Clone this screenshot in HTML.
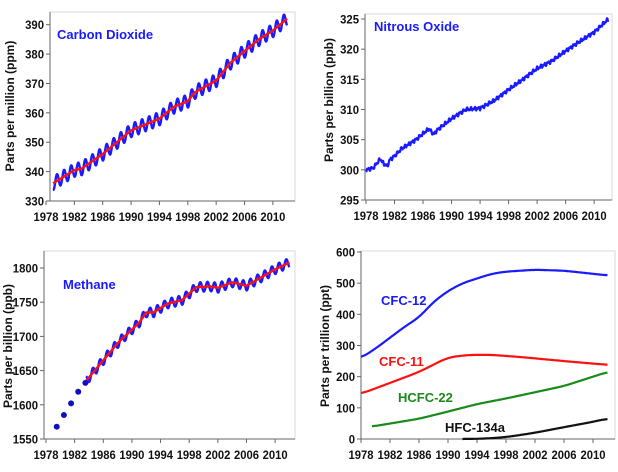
<!DOCTYPE html>
<html><head><meta charset="utf-8"><style>
html,body{margin:0;padding:0;background:#fff;}
svg{display:block;font-family:"Liberation Sans",Arial,sans-serif;font-weight:bold;}
</style></head><body>
<svg id="s" width="618" height="472" viewBox="0 0 618 472" xmlns="http://www.w3.org/2000/svg"></svg>
<script>
const S=document.getElementById('s');let out='';
function interp(pts,x){if(x<=pts[0][0])return pts[0][1];for(let i=1;i<pts.length;i++){if(x<=pts[i][0]){const a=pts[i-1],b=pts[i];return a[1]+(b[1]-a[1])*(x-a[0])/(b[0]-a[0]);}}return pts[pts.length-1][1];}
function val(s,t){if(!s.sm)return interp(s.pts,t);let sum=0,n=0;for(let k=-s.sm;k<=s.sm+1e-9;k+=0.1){sum+=interp(s.pts,Math.min(s.b,Math.max(s.a,t+k)));n++;}return sum/n;}
function panel(c){
 const X=y=>c.x0+(y-1978)*c.xs, Y=v=>c.yb+(v-c.vmin)*(c.yt-c.yb)/(c.vmax-c.vmin);
 out+=`<rect x="${c.L}" y="${c.T}" width="${c.R-c.L}" height="${c.B-c.T}" fill="none" stroke="#d8d8d8" stroke-width="1"/>`;
 out+=`<line x1="${c.L}" y1="${c.T}" x2="${c.L}" y2="${c.B}" stroke="#666"/><line x1="${c.L}" y1="${c.B}" x2="${c.R}" y2="${c.B}" stroke="#666"/>`;
 for(let v=c.vmin;v<=c.vmax+1e-9;v+=c.step){const y=Y(v);const s=String(v);out+=`<line x1="${c.L-4}" y1="${y}" x2="${c.L}" y2="${y}" stroke="#666"/><text x="${c.L-6}" y="${y+4.5}" font-size="12" text-anchor="end" textLength="${s.length*6.3}" lengthAdjust="spacingAndGlyphs" fill="#111">${s}</text>`;}
 for(let yr=1978;yr<=2010;yr+=4){const x=X(yr);out+=`<line x1="${x}" y1="${c.B}" x2="${x}" y2="${c.B+4}" stroke="#666"/><text x="${x-12.5}" y="${c.B+20}" font-size="12" textLength="25" lengthAdjust="spacingAndGlyphs" fill="#111">${yr}</text>`;}
 out+=`<text transform="translate(${c.ax},${c.ay}) rotate(-90)" font-size="12" text-anchor="middle" fill="#111">${c.atitle}</text>`;
 c.series.forEach(s=>{let d='';for(let t=s.a;t<=s.b+1e-9;t+=s.dt){let v=val(s,t)+(s.amp?s.amp*Math.sin(2*Math.PI*(t-0.3)):0)+(s.wig?s.wig*Math.sin(t*17.3)*Math.cos(t*5.1):0);d+=(d?'L':'M')+X(t).toFixed(1)+','+Y(v).toFixed(1);}
  out+=`<path d="${d}" fill="none" stroke="${s.col}" stroke-width="${s.w}" stroke-linejoin="round"/>`;});
 (c.dots||[]).forEach(p=>out+=`<circle cx="${X(p[0])}" cy="${Y(p[1])}" r="3" fill="#1010c0"/>`);
 c.labels.forEach(l=>out+=`<text x="${l[0]}" y="${l[1]}" font-size="13" fill="${l[3]}">${l[2]}</text>`);
}
const co2=[[1979,336],[1982,340.5],[1983,341],[1986,346],[1988,350],[1990,354],[1992,356],[1994,358],[1996,362],[1998,364],[1999,367],[2002,371],[2004,377],[2006,381],[2008,385],[2010,388],[2012,392]];
panel({L:50,R:295,T:12,B:201,x0:46,xs:7.09,vmin:330,vmax:390,step:10,yb:201,yt:24.7,ax:14,ay:106,atitle:'Parts per million (ppm)',
 series:[{pts:co2,a:1979,b:2012,dt:0.05,amp:2.3,col:'#1a1aff',w:2.4},{pts:co2,a:1979,b:2012,dt:0.1,col:'#ff1010',w:2.4}],
 labels:[[57,39,'Carbon Dioxide','#1a1aff']]});
const n2o=[[1978,300],[1979,300.3],[1980,301.8],[1980.5,301],[1981,300.6],[1981.3,301.6],[1982,302.3],[1983,303.5],[1985,305],[1986,306],[1986.8,306.8],[1987.5,305.9],[1988,306.6],[1990,308.5],[1992,310],[1994,310.2],[1996,311.5],[1998,313.3],[2000,315],[2002,316.8],[2004,318],[2006,319.7],[2008,321.3],[2010,322.8],[2012,325]];
panel({L:365,R:612,T:14,B:200,x0:366,xs:7.13,vmin:295,vmax:325,step:5,yb:200,yt:19,ax:333,ay:100,atitle:'Parts per billion (ppb)',
 series:[{pts:n2o,a:1978,b:2012,dt:0.05,wig:0.35,col:'#1a1aff',w:2.2}],
 labels:[[374,31,'Nitrous Oxide','#1a1aff']]});
const ch4=[[1983.6,1635],[1986,1665],[1988,1690],[1990,1710],[1991,1720],[1992,1735],[1993,1735],[1995,1748],[1997,1753],[1999,1772],[2001,1773],[2002,1771],[2004,1779],[2006,1774],[2008,1786],[2010,1798],[2012,1808]];
panel({L:44,R:295,T:251,B:439,x0:46,xs:7.16,vmin:1550,vmax:1800,step:50,yb:439,yt:268,ax:12,ay:346,atitle:'Parts per billion (ppb)',
 series:[{pts:ch4,a:1983.6,b:2012,dt:0.05,amp:7,col:'#1a1aff',w:2.4},{pts:ch4,a:1983.6,b:2012,dt:0.1,col:'#ff1010',w:2.4}],
 dots:[[1979.5,1568],[1980.5,1585],[1981.5,1602],[1982.5,1619],[1983.5,1632]],
 labels:[[63,289,'Methane','#1a1aff']]});
panel({L:361,R:615,T:251,B:439,x0:361,xs:7.25,vmin:0,vmax:600,step:100,yb:439,yt:252,ax:329,ay:346,atitle:'Parts per trillion (ppt)',
 series:[
 {pts:[[1978,260],[1980,290],[1982,325],[1984,360],[1986,390],[1988,440],[1990,475],[1992,500],[1994,515],[1996,530],[1998,537],[2002,543],[2006,540],[2010,530],[2012,525]],a:1978,b:2012,dt:0.1,sm:1,col:'#1a1aff',w:2.2},
 {pts:[[1978,145],[1982,180],[1986,215],[1990,262],[1993,270],[1996,270],[2000,263],[2006,250],[2012,238]],a:1978,b:2012,dt:0.1,sm:1.2,col:'#ff1010',w:2.2},
 {pts:[[1979.5,40],[1986,65],[1990,88],[1994,112],[1998,130],[2002,150],[2006,170],[2010,200],[2012,215]],a:1979.5,b:2012,dt:0.1,sm:1,col:'#1a8a1a',w:2.2},
 {pts:[[1992,0],[1995,1],[1998,6],[2002,20],[2006,38],[2010,55],[2012,66]],a:1992,b:2012,dt:0.1,sm:1.5,col:'#111',w:2.2}],
 labels:[[381,305,'CFC-12','#1a1aff'],[379,366,'CFC-11','#ff1010'],[398,402,'HCFC-22','#1a8a1a'],[445,432,'HFC-134a','#111']]});
S.innerHTML=out;
</script>
</body></html>
